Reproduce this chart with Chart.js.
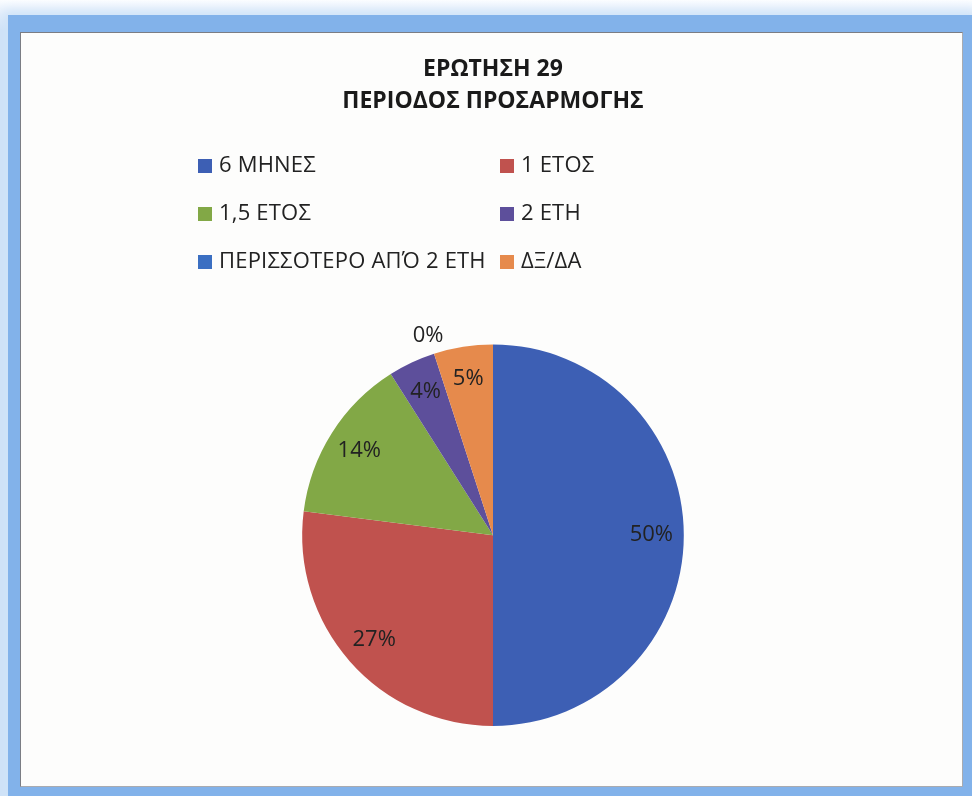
<!DOCTYPE html>
<html lang="el">
<head>
  <meta charset="UTF-8" />
  <title>Ερώτηση 29 - Περίοδος προσαρμογής</title>
  <script src="https://cdn.jsdelivr.net/npm/chart.js"></script>
  <style>
    html, body {
      margin: 0;
      padding: 0;
    }
    body {
      width: 972px;
      height: 796px;
      position: relative;
      overflow: hidden;
      background: linear-gradient(to bottom, #fbfdff 0px, #e3eefb 14px, #cfe2f7 30px);
      font-family: "Open Sans", "Noto Sans", sans-serif;
    }
    .frame {
      position: absolute;
      left: 8px;
      top: 15px;
      right: 0;
      bottom: 0;
      background: #82b2ea;
      box-shadow: 0 0 10px 4px #cfe3f8;
    }
    .panel {
      position: absolute;
      left: 20px;
      top: 32px;
      width: 941px;
      height: 753px;
      background: #fdfdfc;
      border: 1px solid #7b7d84;
      border-right-color: #a9abb0;
      border-bottom-color: #a9abb0;
    }
    #grafico {
      position: absolute;
      left: 0;
      top: 0;
    }
    .legenda {
      position: absolute;
      left: 0;
      top: 0;
    }
    .item {
      position: absolute;
      height: 26px;
      line-height: 26px;
      font-size: 22px;
      color: #222;
      white-space: nowrap;
      letter-spacing: 0.2px;
    }
    .item span.caixa {
      display: inline-block;
      width: 14px;
      height: 14px;
      margin-right: 7px;
      vertical-align: -1px;
    }
  </style>
</head>

<body>
  <div class="frame"></div>
  <div class="panel"></div>
  <canvas id="grafico" width="972" height="796"></canvas>
  <div class="legenda" id="legenda"></div>

  <script>
    const titulo = ['ΕΡΩΤΗΣΗ 29', 'ΠΕΡΙΟΔΟΣ ΠΡΟΣΑΡΜΟΓΗΣ'];
    const categorias = ['6 ΜΗΝΕΣ', '1 ΕΤΟΣ', '1,5 ΕΤΟΣ', '2 ΕΤΗ', 'ΠΕΡΙΣΣΟΤΕΡΟ ΑΠΌ 2 ΕΤΗ', 'ΔΞ/ΔΑ'];
    const percentuais = [50, 27, 14, 4, 0, 5];
    const cores = ['#3d5fb4', '#c0524e', '#82a846', '#5d4f9b', '#3b6fc2', '#e68a4c'];

    // legenda em duas colunas, como no original
    const colunas = [198, 500];
    const linhas = [150, 198, 246];
    const legenda = document.getElementById('legenda');
    categorias.forEach((nome, i) => {
      const div = document.createElement('div');
      div.className = 'item';
      div.style.left = colunas[i % 2] + 'px';
      div.style.top = linhas[Math.floor(i / 2)] + 'px';
      div.innerHTML = `<span class="caixa" style="background:${cores[i]}"></span>${nome}`;
      legenda.appendChild(div);
    });

    const rotulos = {
      id: 'rotulosPercentuais',
      afterDatasetsDraw(chart) {
        const ctx = chart.ctx;
        const meta = chart.getDatasetMeta(0);
        const valores = chart.data.datasets[0].data;
        ctx.save();
        ctx.font = '22px "Open Sans", "Noto Sans", sans-serif';
        ctx.fillStyle = '#222';
        ctx.textAlign = 'center';
        ctx.textBaseline = 'middle';
        meta.data.forEach((arc, i) => {
          const p = arc.getProps(['x', 'y', 'startAngle', 'endAngle', 'outerRadius'], true);
          const meio = (p.startAngle + p.endAngle) / 2;
          const fator = valores[i] === 0 ? 1.1 : 0.83;
          ctx.fillText(valores[i] + '%',
            p.x + Math.cos(meio) * p.outerRadius * fator,
            p.y + Math.sin(meio) * p.outerRadius * fator);
        });
        ctx.restore();
      }
    };

    new Chart(document.getElementById('grafico'), {
      type: 'pie',
      data: {
        labels: categorias,
        datasets: [{
          data: percentuais,
          backgroundColor: cores,
          borderWidth: 0,
        }],
      },
      options: {
        responsive: false,
        animation: false,
        layout: {
          padding: { left: 14, right: 0, top: 0, bottom: 70 },
        },
        plugins: {
          legend: { display: false },
          tooltip: { enabled: false },
          title: {
            display: true,
            text: titulo,
            color: '#1a1a1a',
            font: { family: '"Open Sans", "Noto Sans", sans-serif', size: 23, weight: 'bold', lineHeight: 1.4 },
            padding: { top: 53, bottom: 227 },
          },
        },
      },
      plugins: [rotulos],
    });
  </script>
</body>
</html>
